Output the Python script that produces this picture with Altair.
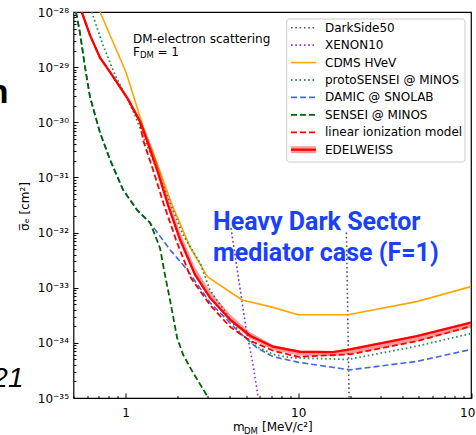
import altair as alt
import pandas as pd

# ---------------- data ----------------
darkside_m = [19.0, 19.7]
darkside_s = [1.0e-32, 1.0e-35]

xenon_m = [4.08, 4.71, 5.04, 5.50, 5.87]
xenon_s = [1.2e-32, 6.0e-34, 1.5e-34, 3.7e-35, 1.0e-35]

cdms_m = [0.712, 1.007, 1.327, 1.424, 1.88, 2.36, 2.98, 4.73, 7.15, 9.98, 19.4, 48.5, 100]
cdms_s = [1.0e-28, 8.1e-30, 5.2e-31, 3.16e-31, 2.95e-32, 5.5e-33, 1.58e-33, 6.0e-34,
          4.4e-34, 3.24e-34, 3.24e-34, 5.6e-34, 1.05e-33]

proto_m = [0.637, 0.741, 0.870, 0.994, 1.135, 1.263, 1.443, 1.763, 2.15, 2.70, 3.08,
           4.60, 5.77, 7.15, 8.96, 19.4, 48.5, 100]
proto_s = [1.0e-28, 2.51e-29, 7.2e-30, 3.16e-30, 1.35e-30, 5.6e-31, 2.09e-31, 4.3e-32,
           9.1e-33, 2.82e-33, 9.1e-34, 1.51e-34, 8.5e-35, 6.2e-35, 5.4e-35, 5.0e-35,
           8.7e-35, 1.48e-34]

damic_m = [0.517, 0.545, 0.583, 0.623, 0.712, 0.814, 0.967, 1.166, 1.386, 1.81, 2.27,
           3.08, 4.60, 5.77, 7.15, 10.2, 19.95, 48.5, 100]
damic_s = [1.0e-28, 4.2e-29, 1.0e-29, 2.88e-30, 6.5e-31, 2.09e-31, 6.0e-32, 2.57e-32,
           1.51e-32, 4.9e-33, 2.14e-33, 5.4e-34, 1.51e-34, 8.1e-35, 5.6e-35, 4.4e-35,
           3.24e-35, 4.6e-35, 7.6e-35]

sensei_m = [0.517, 0.545, 0.583, 0.623, 0.712, 0.814, 0.967, 1.166, 1.386, 1.48, 1.585,
            1.69, 1.81, 1.99, 2.15, 2.46, 3.02]
sensei_s = [1.0e-28, 4.2e-29, 1.0e-29, 2.88e-30, 6.5e-31, 2.09e-31, 6.0e-32, 2.57e-32,
            1.51e-32, 9.1e-33, 5.2e-33, 1.74e-33, 6.0e-34, 1.23e-34, 6.2e-35, 2.88e-35,
            1.0e-35]

lin_m = [0.558, 0.623, 0.712, 0.814, 1.034, 1.213, 1.263, 1.443, 1.671, 1.96, 2.39, 3.08,
         4.03, 5.26, 7.15, 9.98, 19.95, 48.5, 100]
lin_s = [1.0e-28, 3.8e-29, 1.48e-29, 8.1e-30, 2.63e-30, 1.02e-30, 4.8e-31, 1.38e-31,
         3.16e-32, 7.4e-33, 1.51e-33, 4.9e-34, 1.95e-34, 1.10e-34, 7.2e-35, 5.6e-35,
         6.2e-35, 1.07e-34, 2.0e-34]

edw_m = [0.558, 0.623, 0.712, 0.814, 1.034, 1.213, 1.327, 1.522, 1.763, 2.07, 2.52, 3.08,
         4.03, 5.26, 7.15, 10.2, 15.9, 19.95, 48.5, 100]
edw_s = [1.0e-28, 3.8e-29, 1.48e-29, 8.1e-30, 2.63e-30, 1.02e-30, 4.8e-31, 1.38e-31,
         3.16e-32, 7.4e-33, 1.74e-33, 6.6e-34, 2.63e-34, 1.35e-34, 8.5e-35, 6.9e-35,
         6.8e-35, 7.6e-35, 1.32e-34, 2.34e-34]
edw_lo = [9.8e-29, 3.72e-29, 1.45e-29, 7.9e-30, 2.55e-30, 9.7e-31, 4.6e-31, 1.32e-31,
          3.02e-32, 7.1e-33, 1.66e-33, 6.3e-34, 2.45e-34, 1.20e-34, 7.4e-35, 5.9e-35,
          5.7e-35, 6.2e-35, 1.07e-34, 1.90e-34]
edw_hi = [1.03e-28, 3.9e-29, 1.52e-29, 8.4e-30, 2.8e-30, 1.2e-30, 6.3e-31, 1.9e-31,
          4.47e-32, 1.02e-32, 2.35e-33, 8.7e-34, 3.31e-34, 1.55e-34, 9.1e-35, 7.2e-35,
          7.1e-35, 8.0e-35, 1.38e-34, 2.45e-34]

legend_labels = ["DarkSide50", "XENON10", "CDMS HVeV", "protoSENSEI @ MINOS",
                 "DAMIC @ SNOLAB", "SENSEI @ MINOS", "linear ionization model", "EDELWEISS"]

x_major = [1, 10, 100]
x_minor = [0.5, 0.6, 0.7, 0.8, 0.9, 2, 3, 4, 5, 6, 7, 8, 9, 20, 30, 40, 50, 60, 70, 80, 90]
y_exps = list(range(-35, -27))
y_major = [10.0 ** e for e in y_exps]
y_minor = [k * 10.0 ** e for e in range(-35, -28) for k in range(2, 10)]

# ---------------- layout / style ----------------
W, H = 397.5, 386
FONT = "DejaVu Sans"
xs = alt.Scale(type="log", domain=[0.5, 100], nice=False)
ys = alt.Scale(type="log", domain=[1e-35, 1e-28], nice=False)

sup = {"-": "\u207b", "0": "\u2070", "1": "\u00b9", "2": "\u00b2", "3": "\u00b3",
       "4": "\u2074", "5": "\u2075", "6": "\u2076", "7": "\u2077", "8": "\u2078", "9": "\u2079"}
ylab = "''"
for e in y_exps:
    lab = "10" + "".join(sup[c] for c in str(e))
    ylab = f"round(log(datum.value)/LN10) == {e} ? '{lab}' : ({ylab})"

ax_x_main = alt.Axis(orient="bottom", values=x_major, format="d", ticks=False, domain=False,
                     grid=False, labelPadding=9, labelFlush=False, labelOverlap=False,
                     title=None)
ax_x_major = alt.Axis(orient="bottom", values=x_major, labels=False, domain=False, grid=False,
                      tickSize=5, offset=-5, title=None)
ax_x_minor = alt.Axis(orient="bottom", values=x_minor, labels=False, domain=False, grid=False,
                      tickSize=2.5, offset=-2.5, title=None)
ax_y_main = alt.Axis(orient="left", values=y_major, labelExpr=ylab, ticks=False, domain=False,
                     grid=False, labelPadding=5, labelFlush=False, labelOverlap=False,
                     title=None)
ax_y_major = alt.Axis(orient="left", values=y_major, labels=False, domain=False, grid=False,
                      tickSize=4.5, offset=-4.5, title=None)
ax_y_minor = alt.Axis(orient="left", values=y_minor, labels=False, domain=False, grid=False,
                      tickSize=2.5, offset=-2.5, title=None)


def curve(m, s, color, width, dash=None, xaxis=None, yaxis=None):
    df = pd.DataFrame({"m": m, "s": s})
    kw = dict(color=color, strokeWidth=width, clip=True)
    if dash is not None:
        kw["strokeDash"] = dash
    return alt.Chart(df).mark_line(**kw).encode(
        x=alt.X("m:Q", scale=xs, axis=xaxis),
        y=alt.Y("s:Q", scale=ys, axis=yaxis),
    )


DOT = [1.6, 2.7]
DASH = [6, 3]
styles = [
    ("#555555", 1.6, DOT),
    ("#8a2be2", 1.6, DOT),
    ("#ffa500", 1.6, None),
    ("#2e8b57", 1.8, DOT),
    ("#4169e1", 1.6, DASH),
    ("#006400", 1.8, DASH),
    ("#ff0000", 1.8, DASH),
    ("#ff0000", 2.3, None),
]

layers = []
layers.append(curve(darkside_m, darkside_s, *styles[0], xaxis=ax_x_main, yaxis=ax_y_main))
layers.append(curve(xenon_m, xenon_s, *styles[1], xaxis=ax_x_major, yaxis=ax_y_major))
layers.append(curve(cdms_m, cdms_s, *styles[2], xaxis=ax_x_minor, yaxis=ax_y_minor))
layers.append(curve(proto_m, proto_s, *styles[3]))
layers.append(curve(damic_m, damic_s, *styles[4]))
layers.append(curve(sensei_m, sensei_s, *styles[5]))
layers.append(curve(lin_m, lin_s, *styles[6]))

band_df = pd.DataFrame({"m": edw_m, "lo": edw_lo, "hi": edw_hi})
layers.append(alt.Chart(band_df).mark_area(color="#ff0000", opacity=0.4, clip=True).encode(
    x=alt.X("m:Q", scale=xs, axis=None),
    y=alt.Y("lo:Q", scale=ys, axis=None),
    y2="hi:Q",
))
layers.append(curve(edw_m, edw_s, *styles[7]))

one = pd.DataFrame({"k": [0]})


def txt(text, x, y, size=12, align="left", baseline="alphabetic", font=FONT, color="black",
        weight="normal", style="normal", angle=0):
    return alt.Chart(one).mark_text(
        align=align, baseline=baseline, font=font, fontSize=size, color=color,
        fontWeight=weight, fontStyle=style, angle=angle,
    ).encode(x=alt.value(x), y=alt.value(y), text=alt.value(text))


# annotation in the plot
layers.append(txt("DM-electron scattering", 59.5, 30.5))
layers.append(txt("F", 59.5, 43.5))
layers.append(txt("DM", 66.5, 46, size=8.5))
layers.append(txt("= 1", 84, 43.5))

# legend box and entries
layers.append(alt.Chart(one).mark_rect(fill="white", fillOpacity=0.8, stroke="#cccccc",
                                       strokeWidth=1, cornerRadius=3).encode(
    x=alt.value(213.2), x2=alt.value(391.5), y=alt.value(7), y2=alt.value(150)))
for i, lab in enumerate(legend_labels):
    yy = 15.7 + i * 17.43
    color, width, dash = styles[i]
    if lab == "EDELWEISS":
        layers.append(alt.Chart(one).mark_rule(color="#ff0000", opacity=0.4, strokeWidth=7).encode(
            x=alt.value(217.5), x2=alt.value(242.5), y=alt.value(yy)))
    kw = dict(color=color, strokeWidth=width)
    if dash is not None:
        kw["strokeDash"] = dash
    layers.append(alt.Chart(one).mark_rule(**kw).encode(
        x=alt.value(217.5), x2=alt.value(242.5), y=alt.value(yy)))
    layers.append(txt(lab, 251.5, yy, baseline="middle"))

# axis titles
layers.append(txt("m", 159.5, 418.7))
layers.append(txt("DM", 170.5, 421.5, size=8.5))
layers.append(txt("[MeV/c\u00b2]", 188.5, 418.7))
layers.append(txt("\u03c3\u0305\u2091  [cm\u00b2]", -44.5, 194.5, align="center", angle=270))

# overlay slide text
layers.append(txt("Heavy Dark Sector", 139.5, 218, size=25, font="Roboto", color="#1a40ff",
                  weight="bold"))
layers.append(txt("mediator case (F=1)", 139.5, 249, size=25, font="Roboto", color="#1a40ff",
                  weight="bold"))
layers.append(txt("n", -65, 91, size=34, align="right", font="Liberation Sans", weight="bold"))
layers.append(txt("21", -50, 375, size=28, align="right", font="Liberation Sans", style="italic"))

chart = alt.layer(*layers).resolve_axis(x="independent", y="independent").properties(
    width=W, height=H,
    padding={"left": 73.5, "top": 12, "right": 5, "bottom": 37},
    autosize=alt.AutoSizeParams(type="none"),
).configure_view(stroke="black", strokeWidth=1.2).configure_axis(
    labelFont=FONT, labelFontSize=12, labelColor="black", tickColor="black", tickWidth=1,
    grid=False,
)

chart.save("out.html", embed_options={"renderer": "svg", "actions": False})
